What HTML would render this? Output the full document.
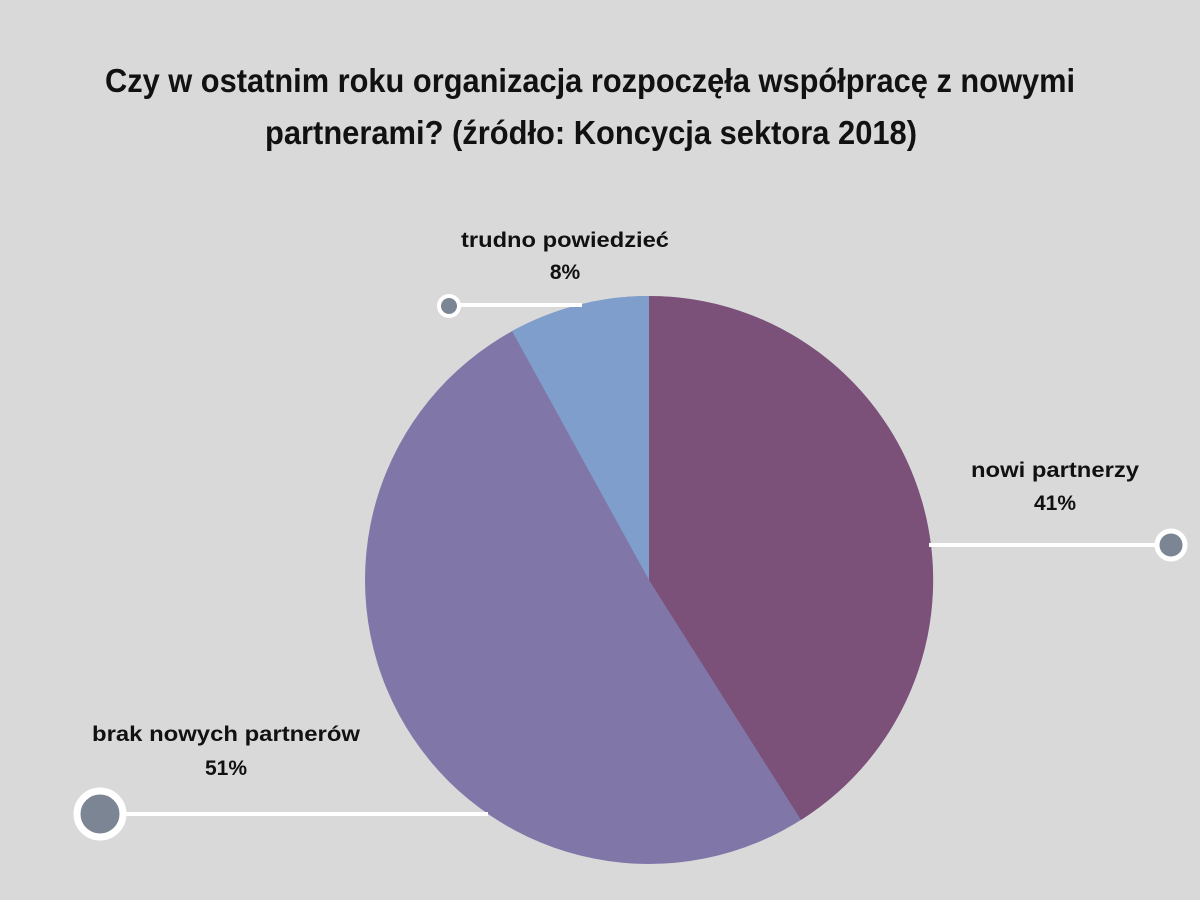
<!DOCTYPE html>
<html><head><meta charset="utf-8"><style>
html,body{margin:0;padding:0;background:#d9d9d9;}
body{width:1200px;height:900px;position:relative;overflow:hidden;}
svg{display:block;}
</style></head><body>
<svg width="1200" height="900" viewBox="0 0 1200 900" xmlns="http://www.w3.org/2000/svg">
<rect width="1200" height="900" fill="#d9d9d9"/>
<g font-family="'Liberation Sans Narrow','Liberation Sans',sans-serif" font-size="33" fill="#111" text-anchor="middle" font-weight="bold">
<text x="590" y="92" textLength="970" lengthAdjust="spacingAndGlyphs">Czy w ostatnim roku organizacja rozpoczęła współpracę z nowymi</text>
<text x="591" y="144" textLength="652" lengthAdjust="spacingAndGlyphs">partnerami? (źródło: Koncycja sektora 2018)</text>
</g>
<circle cx="649" cy="580" r="284" fill="#8077a8"/>
<path d="M649,580 L649,296 A284,284 0 0 1 801,820 Z" fill="#7b5179"/>
<path d="M649,580 L512,331 A284,284 0 0 1 649,296 Z" fill="#7f9ecb"/>
<g stroke="#fff" stroke-width="4">
<line x1="449" y1="305" x2="582" y2="305"/>
<line x1="929" y1="545" x2="1170" y2="545"/>
<line x1="100" y1="814" x2="488" y2="814"/>
</g>
<circle cx="449" cy="306" r="10" fill="#7c8594" stroke="#fff" stroke-width="4"/>
<circle cx="1171" cy="545" r="14" fill="#7c8594" stroke="#fff" stroke-width="5"/>
<circle cx="100" cy="814" r="23" fill="#7c8594" stroke="#fff" stroke-width="7"/>
<g font-family="'Liberation Sans',sans-serif" font-weight="bold" font-size="21" fill="#111" text-anchor="middle">
<text x="565" y="247" textLength="208" lengthAdjust="spacingAndGlyphs">trudno powiedzieć</text>
<text x="565" y="279">8%</text>
<text x="1055" y="477" textLength="168" lengthAdjust="spacingAndGlyphs">nowi partnerzy</text>
<text x="1055" y="510">41%</text>
<text x="226" y="741" textLength="268" lengthAdjust="spacingAndGlyphs">brak nowych partnerów</text>
<text x="226" y="775">51%</text>
</g>
</svg>
</body></html>
